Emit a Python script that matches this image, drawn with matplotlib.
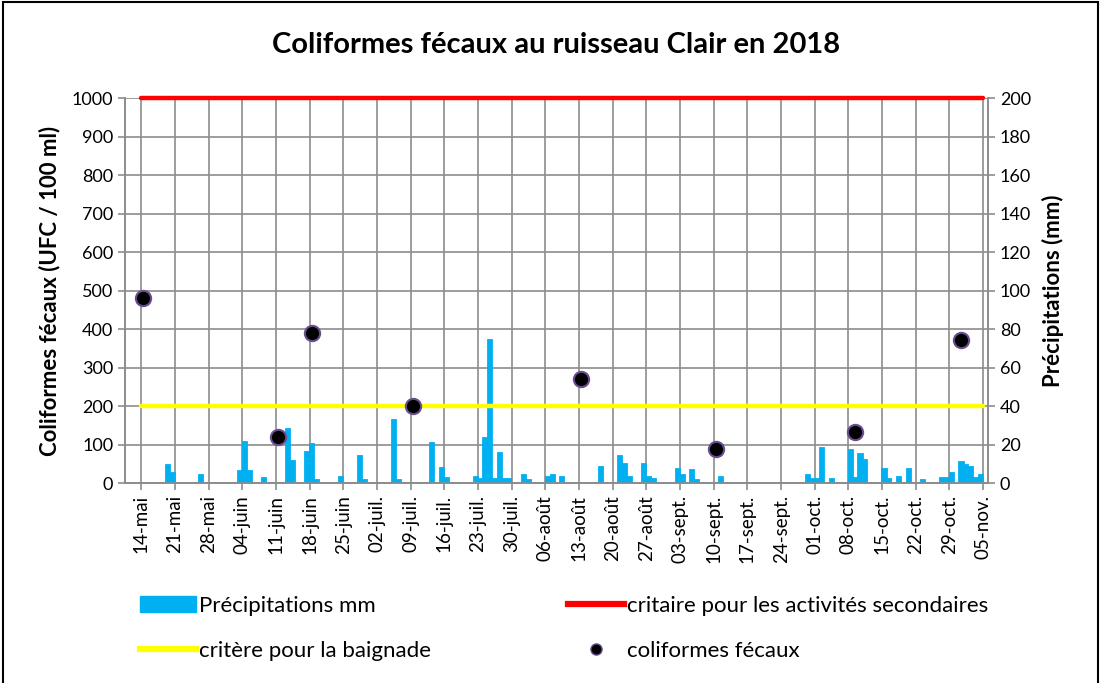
import numpy as np
import pandas as pd
import matplotlib
matplotlib.use("Agg")
import matplotlib.pyplot as plt
from matplotlib.patches import Rectangle, Patch
from matplotlib.lines import Line2D

plt.rcParams['font.family'] = ['Lato', 'DejaVu Sans']

# précipitations journalières (mm)
pluie_dates = ["2018-05-19", "2018-05-20", "2018-05-26", "2018-06-03", "2018-06-04", "2018-06-05",
               "2018-06-08", "2018-06-13", "2018-06-14", "2018-06-17", "2018-06-18", "2018-06-19",
               "2018-06-24", "2018-06-28", "2018-06-29", "2018-07-05", "2018-07-06", "2018-07-13",
               "2018-07-15", "2018-07-16", "2018-07-22", "2018-07-23", "2018-07-24", "2018-07-25",
               "2018-07-26", "2018-07-27", "2018-07-28", "2018-07-29", "2018-08-01", "2018-08-02",
               "2018-08-06", "2018-08-07", "2018-08-09", "2018-08-17", "2018-08-21", "2018-08-22",
               "2018-08-23", "2018-08-26", "2018-08-27", "2018-08-28", "2018-09-02", "2018-09-03",
               "2018-09-05", "2018-09-06", "2018-09-11", "2018-09-29", "2018-09-30", "2018-10-01",
               "2018-10-02", "2018-10-04", "2018-10-08", "2018-10-09", "2018-10-10", "2018-10-11",
               "2018-10-15", "2018-10-16", "2018-10-18", "2018-10-20", "2018-10-23", "2018-10-27",
               "2018-10-28", "2018-10-29", "2018-10-31", "2018-11-01", "2018-11-02", "2018-11-03",
               "2018-11-04"]
pluie_mm = [9.4, 5.4, 4.2, 6.2, 21.2, 6.2,
            2.4, 28.0, 11.4, 16.3, 20.2, 1.8,
            3.3, 14.1, 1.8, 32.8, 1.8, 21.0,
            7.6, 2.5, 3.3, 2.0, 23.2, 74.3,
            2.0, 15.4, 2.0, 2.0, 4.0, 1.6,
            3.0, 4.0, 3.1, 8.2, 13.9, 10.0,
            3.0, 10.0, 3.0, 2.0, 7.1, 4.4,
            7.0, 1.8, 3.0, 4.0, 2.1, 2.1,
            18.0, 2.2, 17.1, 2.5, 15.0, 12.2,
            7.2, 2.1, 3.0, 7.2, 1.8, 2.8,
            2.8, 5.2, 11.1, 9.2, 8.3, 2.8,
            4.2]

# coliformes fécaux (UFC / 100 ml)
coli_dates = ["2018-05-14", "2018-06-11", "2018-06-18", "2018-07-09", "2018-08-13",
              "2018-09-10", "2018-10-09", "2018-10-31"]
coli_vals = [480, 120, 390, 200, 270, 88, 132, 371]

critere_baignade = 200
critere_secondaire = 1000

tick_dates = pd.date_range("2018-05-14", "2018-11-05", freq="7D")
tick_labels = ["14-mai", "21-mai", "28-mai", "04-juin", "11-juin", "18-juin", "25-juin",
               "02-juil.", "09-juil.", "16-juil.", "23-juil.", "30-juil.", "06-août",
               "13-août", "20-août", "27-août", "03-sept.", "10-sept.", "17-sept.",
               "24-sept.", "01-oct.", "08-oct.", "15-oct.", "22-oct.", "29-oct.", "05-nov."]

bleu = "#00B0F0"
gris = "#8c8c8c"

fig = plt.figure(figsize=(11.03, 6.83), dpi=100)
ax2 = fig.add_axes([0.1133, 0.2928, 0.7824, 0.5637])
ax1 = ax2.twinx()
ax1.yaxis.tick_left()
ax1.yaxis.set_label_position("left")
ax2.yaxis.tick_right()
ax2.yaxis.set_label_position("right")
ax1.set_zorder(ax2.get_zorder() + 1)
ax1.patch.set_visible(False)

# barres (axe secondaire)
pd_pluie = pd.to_datetime(pluie_dates) + pd.Timedelta(hours=12)
ax2.bar(pd_pluie, pluie_mm, width=0.85, color=bleu, edgecolor=bleu, linewidth=1.3, zorder=3)
ax2.set_ylim(0, 200)
ax2.set_yticks(np.arange(0, 201, 20))
ax2.set_axisbelow(True)
ax2.grid(True, color=gris, linewidth=1.2)

x0 = pd.Timestamp("2018-05-14")
x1 = pd.Timestamp("2018-11-05")
ax2.set_xlim(x0 - pd.Timedelta(days=3.4), x1 + pd.Timedelta(days=1.0))
ax2.set_xticks(tick_dates)
ax2.set_xticklabels(tick_labels, rotation=90, fontsize=13.5)

# lignes de critères et points
ax1.plot([x0, x1], [critere_secondaire] * 2, color="#FF0000", linewidth=3.2, solid_capstyle="round", clip_on=False)
ax1.plot([x0, x1], [critere_baignade] * 2, color="#FFFF00", linewidth=3.2, solid_capstyle="round")
pd_coli = pd.to_datetime(coli_dates) + pd.Timedelta(hours=10)
ax1.plot(pd_coli, coli_vals, "o", color="black", markersize=11, markeredgecolor="#6A4C93",
         markeredgewidth=1.5, clip_on=False, zorder=5)
ax1.set_ylim(0, 1000)
ax1.set_yticks(np.arange(0, 1001, 100))
ax1.set_xlim(ax2.get_xlim())

for ax in (ax1, ax2):
    for s in ax.spines.values():
        s.set_color(gris)
        s.set_linewidth(1.2)
    ax.tick_params(axis="both", color=gris, length=5, width=1.2, labelcolor="black")
    ax.tick_params(axis="y", labelsize=13)
ax2.spines["top"].set_visible(False)
ax1.spines["top"].set_visible(False)

ax1.set_ylabel("Coliformes fécaux (UFC / 100 ml)", fontsize=16, fontweight="bold", labelpad=8)
ax2.set_ylabel("Précipitations (mm)", fontsize=16, fontweight="bold", labelpad=8)
fig.text(0.504, 0.934, "Coliformes fécaux au ruisseau Clair en 2018", ha="center", va="center",
         fontsize=21, fontweight="bold")

# légende
h_pluie = Patch(facecolor=bleu, edgecolor=bleu)
h_bain = Line2D([], [], color="#FFFF00", linewidth=4.5)
h_sec = Line2D([], [], color="#FF0000", linewidth=4.5)
h_coli = Line2D([], [], marker="o", linestyle="none", color="black", markeredgecolor="#6A4C93",
                markersize=8)
leg_kw = dict(frameon=False, fontsize=16, handlelength=2.5, handletextpad=0.15,
              labelspacing=1.15, borderpad=0, borderaxespad=0)
fig.legend([h_pluie, h_bain], ["Précipitations mm", "critère pour la baignade"],
           loc="upper left", bbox_to_anchor=(0.127, 0.128), **leg_kw)
fig.legend([h_sec, h_coli], ["critaire pour les activités secondaires", "coliformes fécaux"],
           loc="upper left", bbox_to_anchor=(0.515, 0.128), **leg_kw)

fig.patches.append(Rectangle((3 / 1103, -0.01), 1095 / 1103, 1.0 - 2 / 683 + 0.01, transform=fig.transFigure,
                             fill=False, edgecolor="black", linewidth=1.5))

fig.savefig("out.png", dpi=100)
